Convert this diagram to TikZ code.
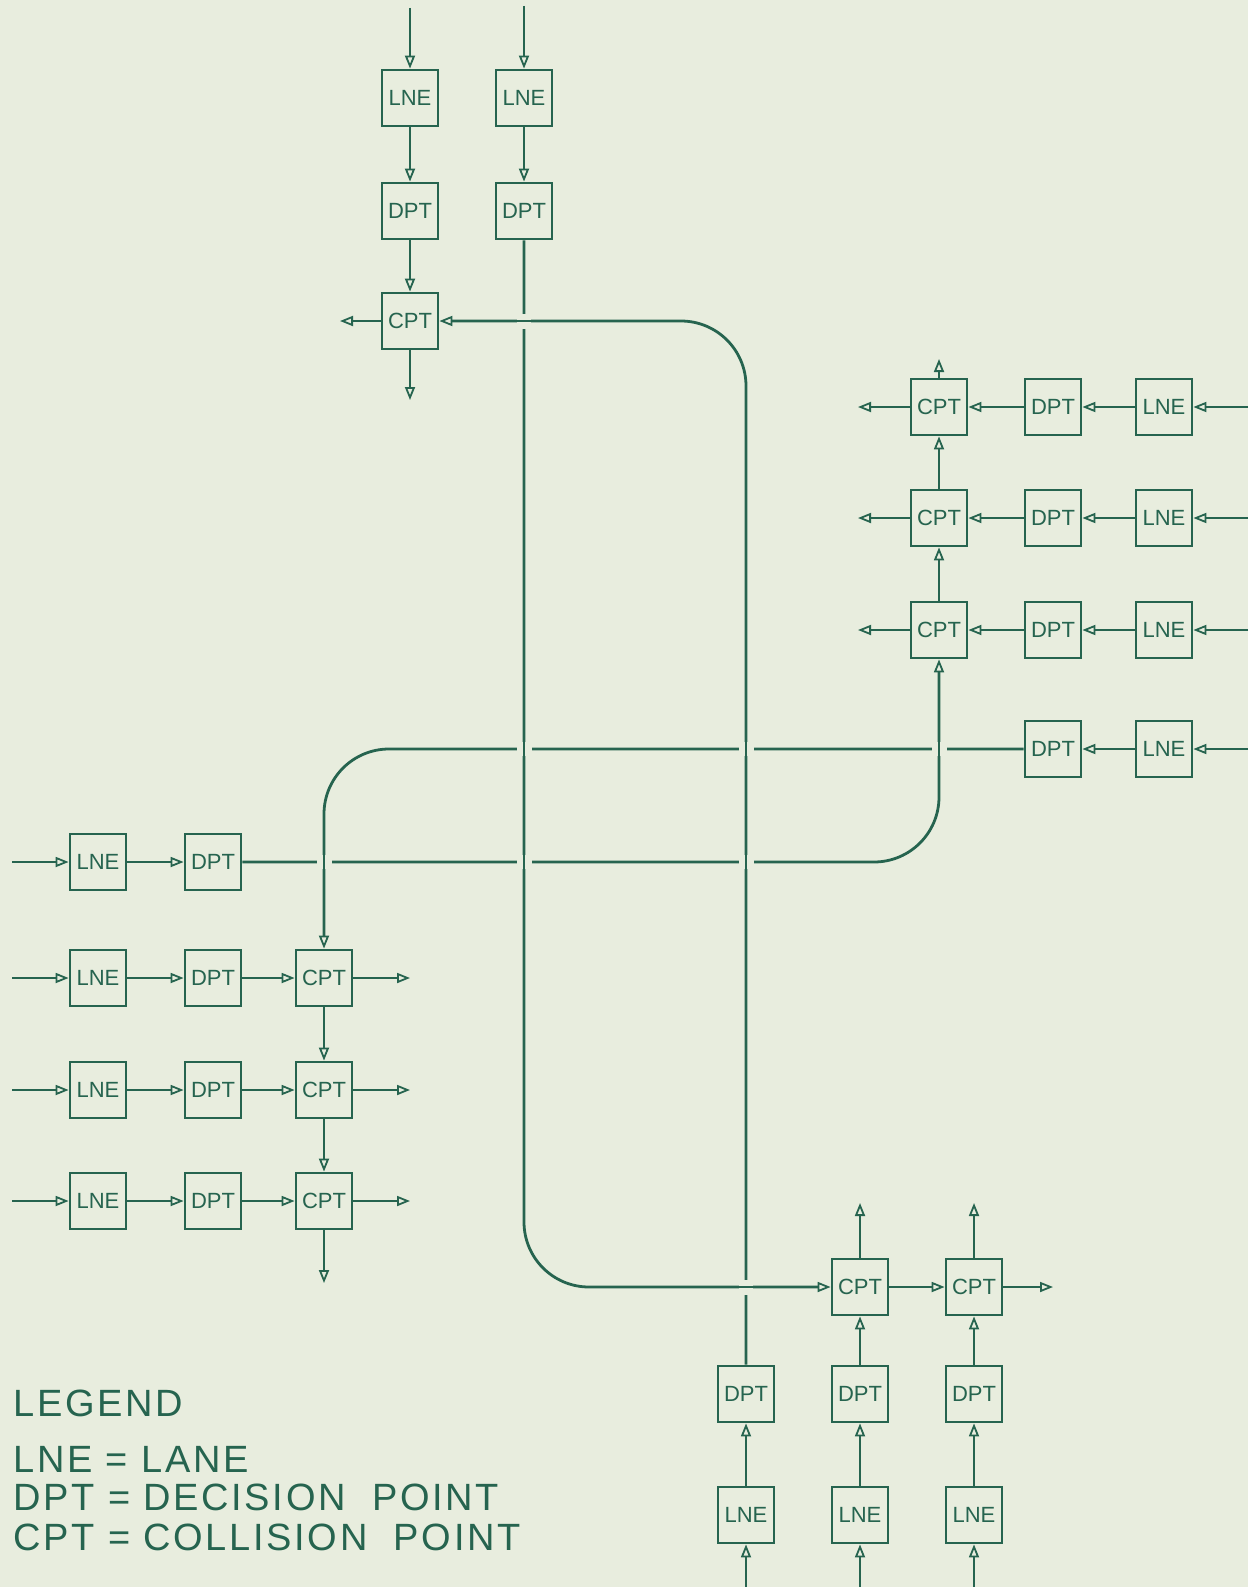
\documentclass[tikz,border=0pt]{standalone}
\usepackage{fontspec}
\setmainfont{Liberation Sans}
\usetikzlibrary{arrows.meta,calc}
\definecolor{paper}{HTML}{E8EDDE}
\definecolor{ink}{HTML}{26644F}

\begin{document}
\begin{tikzpicture}[
    x=1pt, y=-1pt,
    font=\fontsize{22}{24}\selectfont,
    box/.style={rectangle, draw=ink, line width=2.8pt, text=ink, inner sep=0pt,
                minimum width=56pt, minimum height=56pt},
    wire/.style={draw=ink, line width=2.8pt},
    flow/.style={wire, -{Triangle[open, length=13pt, width=10pt, line width=1.8pt]}},
    legend/.style={text=ink, anchor=base west,
                   font=\fontsize{38}{40}\selectfont\addfontfeature{LetterSpace=7}},
  ]

  \fill[paper] (0,0) rectangle (1248,1587);
  \useasboundingbox (0,0) rectangle (1248,1587);

  % Column x-positions of the four groups
  \def\tA{410}\def\tB{524}
  \def\rC{939}\def\rD{1053}\def\rL{1164}
  \def\lL{98}\def\lD{213}\def\lC{324}
  \def\bA{746}\def\bB{860}\def\bC{974}

  % TOP
  \node[box] (lneTA) at (\tA, 98) {LNE};
  \node[box] (dptTA) at (\tA, 211) {DPT};
  \node[box] (cptTA) at (\tA, 321) {CPT};
  \node[box] (lneTB) at (\tB, 98) {LNE};
  \node[box] (dptTB) at (\tB, 211) {DPT};

  % RIGHT
  \node[box] (cptR1) at (\rC, 407) {CPT};
  \node[box] (dptR1) at (\rD, 407) {DPT};
  \node[box] (lneR1) at (\rL, 407) {LNE};
  \node[box] (cptR2) at (\rC, 518) {CPT};
  \node[box] (dptR2) at (\rD, 518) {DPT};
  \node[box] (lneR2) at (\rL, 518) {LNE};
  \node[box] (cptR3) at (\rC, 630) {CPT};
  \node[box] (dptR3) at (\rD, 630) {DPT};
  \node[box] (lneR3) at (\rL, 630) {LNE};
  \node[box] (dptR4) at (\rD, 749) {DPT};
  \node[box] (lneR4) at (\rL, 749) {LNE};

  % LEFT
  \node[box] (lneL1) at (\lL, 862) {LNE};
  \node[box] (dptL1) at (\lD, 862) {DPT};
  \node[box] (lneL2) at (\lL, 978) {LNE};
  \node[box] (dptL2) at (\lD, 978) {DPT};
  \node[box] (cptL2) at (\lC, 978) {CPT};
  \node[box] (lneL3) at (\lL, 1090) {LNE};
  \node[box] (dptL3) at (\lD, 1090) {DPT};
  \node[box] (cptL3) at (\lC, 1090) {CPT};
  \node[box] (lneL4) at (\lL, 1201) {LNE};
  \node[box] (dptL4) at (\lD, 1201) {DPT};
  \node[box] (cptL4) at (\lC, 1201) {CPT};

  % BOTTOM
  \node[box] (dptB1) at (\bA, 1394) {DPT};
  \node[box] (lneB1) at (\bA, 1515) {LNE};
  \node[box] (cptB2) at (\bB, 1287) {CPT};
  \node[box] (dptB2) at (\bB, 1394) {DPT};
  \node[box] (lneB2) at (\bB, 1515) {LNE};
  \node[box] (cptB3) at (\bC, 1287) {CPT};
  \node[box] (dptB3) at (\bC, 1394) {DPT};
  \node[box] (lneB3) at (\bC, 1515) {LNE};

  % free ends
  \coordinate (inTA) at (\tA, 8);
  \coordinate (inTB) at (\tB, 6);
  \coordinate (outTAs) at (\tA, 400);
  \coordinate (outTAw) at (340, 321);
  \coordinate (inR1) at (1248, 407);
  \coordinate (inR2) at (1248, 518);
  \coordinate (inR3) at (1248, 630);
  \coordinate (inR4) at (1248, 749);
  \coordinate (outR1) at (858, 407);
  \coordinate (outR2) at (858, 518);
  \coordinate (outR3) at (858, 630);
  \coordinate (outRn) at (\rC, 359);
  \coordinate (inL1) at (12, 862);
  \coordinate (inL2) at (12, 978);
  \coordinate (inL3) at (12, 1090);
  \coordinate (inL4) at (12, 1201);
  \coordinate (outL2) at (410, 978);
  \coordinate (outL3) at (410, 1090);
  \coordinate (outL4) at (410, 1201);
  \coordinate (outLs) at (\lC, 1283);
  \coordinate (inB1) at (\bA, 1587);
  \coordinate (inB2) at (\bB, 1587);
  \coordinate (inB3) at (\bC, 1587);
  \coordinate (outB2) at (\bB, 1203);
  \coordinate (outB3) at (\bC, 1203);
  \coordinate (outBe) at (1053, 1287);

  % top lanes
  \draw[flow] (inTA) -- (lneTA);
  \draw[flow] (lneTA) -- (dptTA);
  \draw[flow] (dptTA) -- (cptTA);
  \draw[flow] (cptTA) -- (outTAs);
  \draw[flow] (cptTA) -- (outTAw);
  \draw[flow] (inTB) -- (lneTB);
  \draw[flow] (lneTB) -- (dptTB);
  \draw[flow, rounded corners=65pt] (dptTB) -- (dptTB |- cptB2) -- (cptB2);

  % right lanes
  \draw[flow] (inR1) -- (lneR1);
  \draw[flow] (lneR1) -- (dptR1);
  \draw[flow] (dptR1) -- (cptR1);
  \draw[flow] (cptR1) -- (outR1);
  \draw[flow] (inR2) -- (lneR2);
  \draw[flow] (lneR2) -- (dptR2);
  \draw[flow] (dptR2) -- (cptR2);
  \draw[flow] (cptR2) -- (outR2);
  \draw[flow] (inR3) -- (lneR3);
  \draw[flow] (lneR3) -- (dptR3);
  \draw[flow] (dptR3) -- (cptR3);
  \draw[flow] (cptR3) -- (outR3);
  \draw[flow] (inR4) -- (lneR4);
  \draw[flow] (lneR4) -- (dptR4);
  \draw[flow, rounded corners=65pt] (dptR4) -- (cptL2 |- dptR4) -- (cptL2);
  \draw[flow] (cptR3) -- (cptR2);
  \draw[flow] (cptR2) -- (cptR1);
  \draw[flow] (cptR1) -- (outRn);

  % left lanes
  \draw[flow] (inL1) -- (lneL1);
  \draw[flow] (lneL1) -- (dptL1);
  \draw[flow, rounded corners=65pt] (dptL1) -- (cptR3 |- dptL1) -- (cptR3);
  \draw[flow] (inL2) -- (lneL2);
  \draw[flow] (lneL2) -- (dptL2);
  \draw[flow] (dptL2) -- (cptL2);
  \draw[flow] (cptL2) -- (outL2);
  \draw[flow] (inL3) -- (lneL3);
  \draw[flow] (lneL3) -- (dptL3);
  \draw[flow] (dptL3) -- (cptL3);
  \draw[flow] (cptL3) -- (outL3);
  \draw[flow] (inL4) -- (lneL4);
  \draw[flow] (lneL4) -- (dptL4);
  \draw[flow] (dptL4) -- (cptL4);
  \draw[flow] (cptL4) -- (outL4);
  \draw[flow] (cptL2) -- (cptL3);
  \draw[flow] (cptL3) -- (cptL4);
  \draw[flow] (cptL4) -- (outLs);

  % bottom lanes
  \draw[flow] (inB1) -- (lneB1);
  \draw[flow] (lneB1) -- (dptB1);
  \draw[flow, rounded corners=65pt] (dptB1) -- (dptB1 |- cptTA) -- (cptTA);
  \draw[flow] (inB2) -- (lneB2);
  \draw[flow] (lneB2) -- (dptB2);
  \draw[flow] (dptB2) -- (cptB2);
  \draw[flow] (cptB2) -- (outB2);
  \draw[flow] (inB3) -- (lneB3);
  \draw[flow] (lneB3) -- (dptB3);
  \draw[flow] (dptB3) -- (cptB3);
  \draw[flow] (cptB3) -- (outB3);
  \draw[flow] (cptB2) -- (cptB3);
  \draw[flow] (cptB3) -- (outBe);

  % crossings: a gap in the line that stops, the other one redrawn
  \coordinate (xB4) at (dptTB |- dptR4);
  \coordinate (xB1) at (dptTB |- dptL1);
  \coordinate (xC4) at (dptB1 |- dptR4);
  \coordinate (xC1) at (dptB1 |- dptL1);
  \coordinate (xR4) at (cptR1 |- dptR4);
  \coordinate (xL1) at (cptL2 |- dptL1);
  \coordinate (xBt) at (dptTB |- cptTA);
  \coordinate (xCb) at (dptB1 |- cptB2);
  \foreach \p in {xB4, xB1, xC4, xC1, xR4, xL1} {
    \fill[paper] ($(\p)+(-7.5,-7)$) rectangle ($(\p)+(7.5,7)$);
    \draw[wire] ($(\p)+(0,-14)$) -- ($(\p)+(0,14)$);
  }
  \foreach \p in {xBt, xCb} {
    \fill[paper] ($(\p)+(-7,-7.5)$) rectangle ($(\p)+(7,7.5)$);
    \draw[wire] ($(\p)+(-14,0)$) -- ($(\p)+(14,0)$);
  }

  % LEGEND
  \node[legend] (legTitle) at (10, 1416) {LEGEND};
  \node[legend] (legLne) at (10, 1472) {LNE = LANE};
  \node[legend] (legDpt) at (10, 1510) {DPT = DECISION\ \ POINT};
  \node[legend] (legCpt) at (10, 1550) {CPT = COLLISION\ \ POINT};

\end{tikzpicture}
\end{document}
